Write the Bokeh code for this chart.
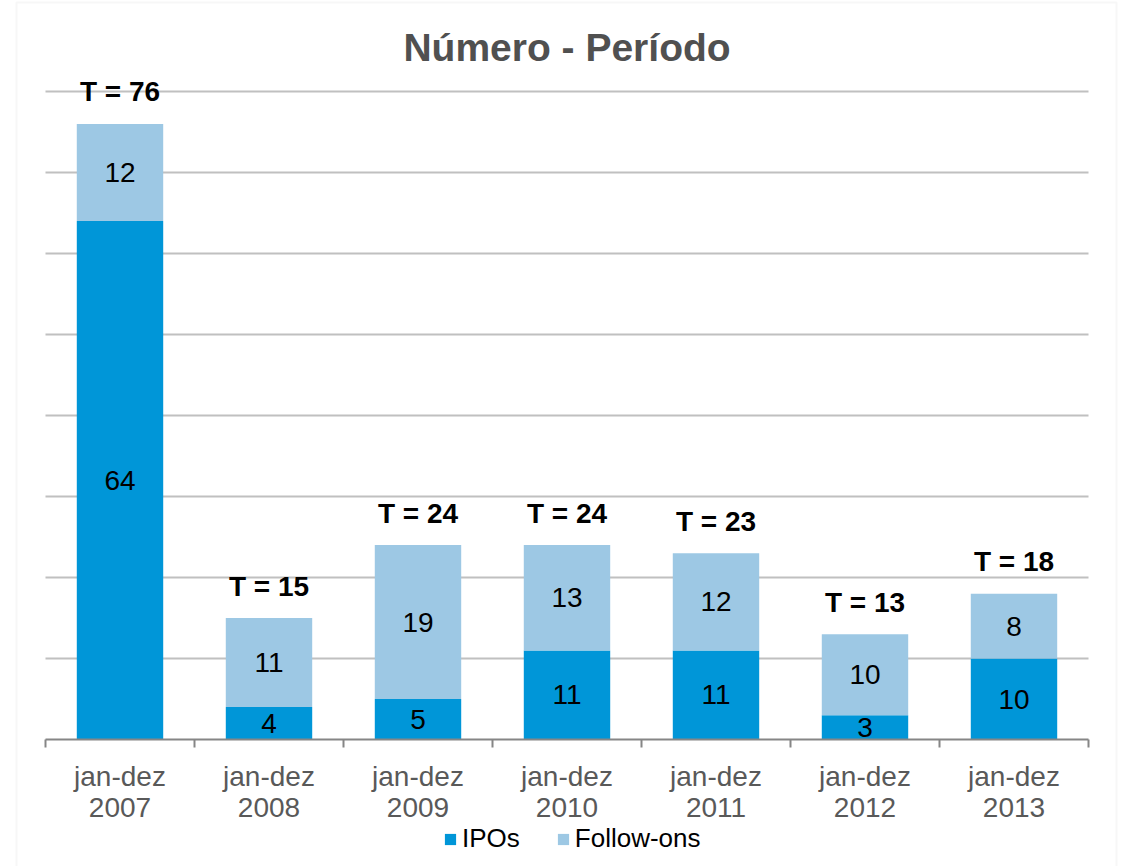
from bokeh.plotting import figure
from bokeh.models import Range1d, FixedTicker, ColumnDataSource, Legend, LegendItem, Label, BoxAnnotation
from bokeh.embed import file_html
from bokeh.resources import INLINE
from bokeh.core.properties import value

# ---- data ----
periods = ["jan-dez\n2007", "jan-dez\n2008", "jan-dez\n2009", "jan-dez\n2010",
           "jan-dez\n2011", "jan-dez\n2012", "jan-dez\n2013"]
ipos = [64, 4, 5, 11, 11, 3, 10]
follow_ons = [12, 11, 19, 13, 12, 10, 8]
totals = [76, 15, 24, 24, 23, 13, 18]
grid_values = [10, 20, 30, 40, 50, 60, 70, 80]
title_text = "Número - Período"

IPO_COLOR = "#0096D8"
FOL_COLOR = "#9DC8E4"
FONT = "Liberation Sans"

# ---- layout (pixels) ----
W, H = 1123, 866
PLOT_L, PLOT_R = 45, 1088      # horizontal extent of the category axis
BASE_Y, TOP_Y = 739, 91        # pixel rows of value 0 and value 80
n = len(periods)
px_x = (PLOT_R - PLOT_L) / n
px_y = (BASE_Y - TOP_Y) / 80.0

xs = [i + 0.5 for i in range(n)]

src = ColumnDataSource(dict(
    x=xs,
    ipo=ipos,
    fol=follow_ons,
    total=totals,
    ipo_mid=[v / 2 for v in ipos],
    fol_mid=[a + b / 2 for a, b in zip(ipos, follow_ons)],
    ipo_lbl=[str(v) for v in ipos],
    fol_lbl=[str(v) for v in follow_ons],
    tot_lbl=["T = %d" % v for v in totals],
))
gsrc = ColumnDataSource(dict(y=grid_values, x0=[0] * len(grid_values), x1=[n] * len(grid_values)))

p = figure(width=W, height=H, output_backend="svg", toolbar_location=None,
           x_range=Range1d(-PLOT_L / px_x, n + (W - PLOT_R) / px_x),
           y_range=Range1d(-(H - BASE_Y) / px_y, BASE_Y / px_y),
           min_border_left=0, min_border_right=0, min_border_top=0, min_border_bottom=0)
p.outline_line_color = None
p.background_fill_color = "white"
p.border_fill_color = "white"
p.xgrid.visible = False
p.ygrid.visible = False
p.yaxis.visible = False

# outer chart border
p.add_layout(BoxAnnotation(left=(16 - PLOT_L) / px_x, right=(1116 - PLOT_L) / px_x,
                           top=(BASE_Y - 2) / px_y, bottom=-(H + 40 - BASE_Y) / px_y,
                           fill_alpha=0, line_color="#E6E6E6", line_width=2))

# gridlines
p.segment(x0="x0", x1="x1", y0="y", y1="y", source=gsrc, line_color="#C0C0C0", line_width=2)

r_ipo, r_fol = p.vbar_stack(["ipo", "fol"], x="x", width=0.58, source=src,
                            fill_color=[IPO_COLOR, FOL_COLOR], line_color=None)

# labels inside segments
p.text(x="x", y="ipo_mid", text="ipo_lbl", source=src, text_align="center",
       text_baseline="middle", text_font=value(FONT), text_font_size="28px", text_color="black")
p.text(x="x", y="fol_mid", text="fol_lbl", source=src, text_align="center",
       text_baseline="middle", text_font=value(FONT), text_font_size="28px", text_color="black")
# totals
p.text(x="x", y="total", text="tot_lbl", source=src, text_align="center",
       text_baseline="middle", y_offset=-32, text_font=value(FONT), text_font_size="28px",
       text_font_style="bold", text_color="black")

# title
p.add_layout(Label(x=n / 2, y=(BASE_Y - 47) / px_y, text=title_text, text_align="center",
                   text_baseline="middle", text_font=FONT, text_font_size="39px",
                   text_font_style="bold", text_color="#505050"))

# x axis fixed at value 0
xa = p.xaxis[0]
xa.fixed_location = 0
xa.bounds = (0, n)
xa.ticker = FixedTicker(ticks=xs, minor_ticks=list(range(n + 1)))
xa.major_label_overrides = {x: lbl for x, lbl in zip(xs, periods)}
xa.axis_line_color = "#868686"
xa.axis_line_width = 2
xa.major_tick_line_color = None
xa.major_tick_out = 0
xa.major_tick_in = 0
xa.minor_tick_line_color = "#868686"
xa.minor_tick_line_width = 2
xa.minor_tick_out = 8
xa.minor_tick_in = 0
xa.major_label_standoff = 13
xa.major_label_text_font = FONT
xa.major_label_text_font_size = "28px"
xa.major_label_text_color = "#595959"
xa.major_label_text_line_height = 1.0

legend = Legend(items=[LegendItem(label="IPOs", renderers=[r_ipo]),
                       LegendItem(label="Follow-ons", renderers=[r_fol])],
                orientation="horizontal", location=(443, 12),
                glyph_width=14, glyph_height=14, label_standoff=5, spacing=36,
                padding=0, margin=0, border_line_color=None, background_fill_alpha=0,
                label_text_font=FONT, label_text_font_size="26px", label_text_color="black")
p.add_layout(legend)

open("out.html", "w").write(file_html(p, INLINE))
